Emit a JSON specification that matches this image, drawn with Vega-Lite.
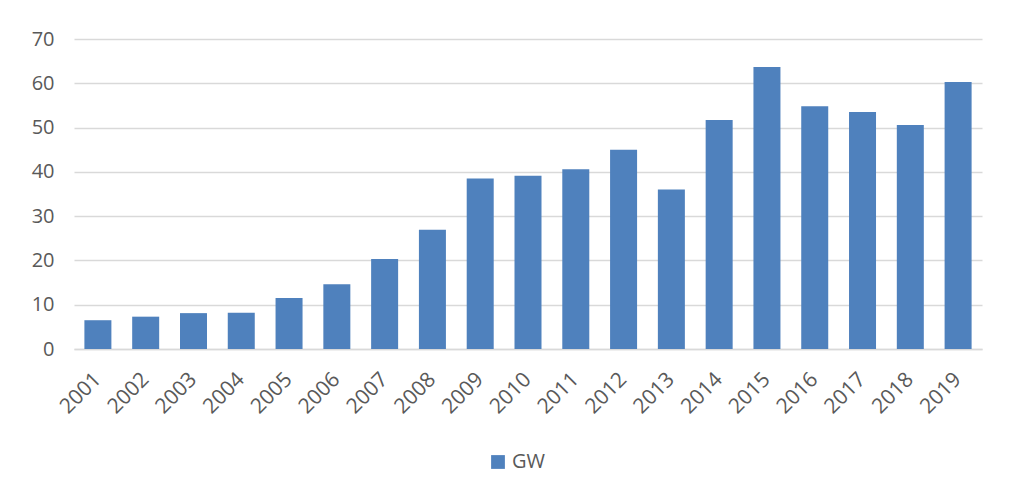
{
  "$schema": "https://vega.github.io/schema/vega-lite/v6.json",
  "autosize": "none",
  "width": 908,
  "height": 310,
  "padding": {"left": 74, "top": 39, "right": 32, "bottom": 140},
  "background": "white",
  "config": {
    "view": {"stroke": null},
    "font": "Open Sans"
  },
  "data": {
    "values": [
      {"year": "2001", "value": 6.5, "series": "GW"},
      {"year": "2002", "value": 7.3, "series": "GW"},
      {"year": "2003", "value": 8.1, "series": "GW"},
      {"year": "2004", "value": 8.2, "series": "GW"},
      {"year": "2005", "value": 11.5, "series": "GW"},
      {"year": "2006", "value": 14.6, "series": "GW"},
      {"year": "2007", "value": 20.3, "series": "GW"},
      {"year": "2008", "value": 26.9, "series": "GW"},
      {"year": "2009", "value": 38.5, "series": "GW"},
      {"year": "2010", "value": 39.1, "series": "GW"},
      {"year": "2011", "value": 40.6, "series": "GW"},
      {"year": "2012", "value": 45.0, "series": "GW"},
      {"year": "2013", "value": 36.0, "series": "GW"},
      {"year": "2014", "value": 51.7, "series": "GW"},
      {"year": "2015", "value": 63.7, "series": "GW"},
      {"year": "2016", "value": 54.8, "series": "GW"},
      {"year": "2017", "value": 53.5, "series": "GW"},
      {"year": "2018", "value": 50.6, "series": "GW"},
      {"year": "2019", "value": 60.3, "series": "GW"}
    ]
  },
  "mark": {"type": "bar"},
  "encoding": {
    "x": {
      "field": "year",
      "type": "ordinal",
      "scale": {"paddingInner": 0.435, "paddingOuter": 0.2175},
      "axis": {
        "title": null,
        "labelAngle": -45,
        "labelAlign": "right",
        "labelBaseline": "middle",
        "labelFontSize": 21,
        "labelColor": "#595959",
        "labelPadding": 27,
        "ticks": false,
        "domainColor": "#D9D9D9",
        "domainWidth": 1.5,
        "grid": false
      }
    },
    "y": {
      "field": "value",
      "type": "quantitative",
      "scale": {"domain": [0, 70], "nice": false},
      "axis": {
        "title": null,
        "values": [0, 10, 20, 30, 40, 50, 60, 70],
        "labelFontSize": 20,
        "labelColor": "#595959",
        "labelPadding": 20,
        "ticks": false,
        "domain": false,
        "gridColor": "#D9D9D9",
        "gridWidth": 1.5
      }
    },
    "color": {
      "field": "series",
      "type": "nominal",
      "scale": {"range": ["#4F81BD"]},
      "legend": {
        "title": null,
        "orient": "none",
        "legendX": 414,
        "legendY": 413,
        "direction": "horizontal",
        "symbolType": "square",
        "symbolSize": 190,
        "symbolStrokeWidth": 0,
        "labelFontSize": 20,
        "labelColor": "#595959",
        "labelOffset": 4
      }
    }
  }
}
